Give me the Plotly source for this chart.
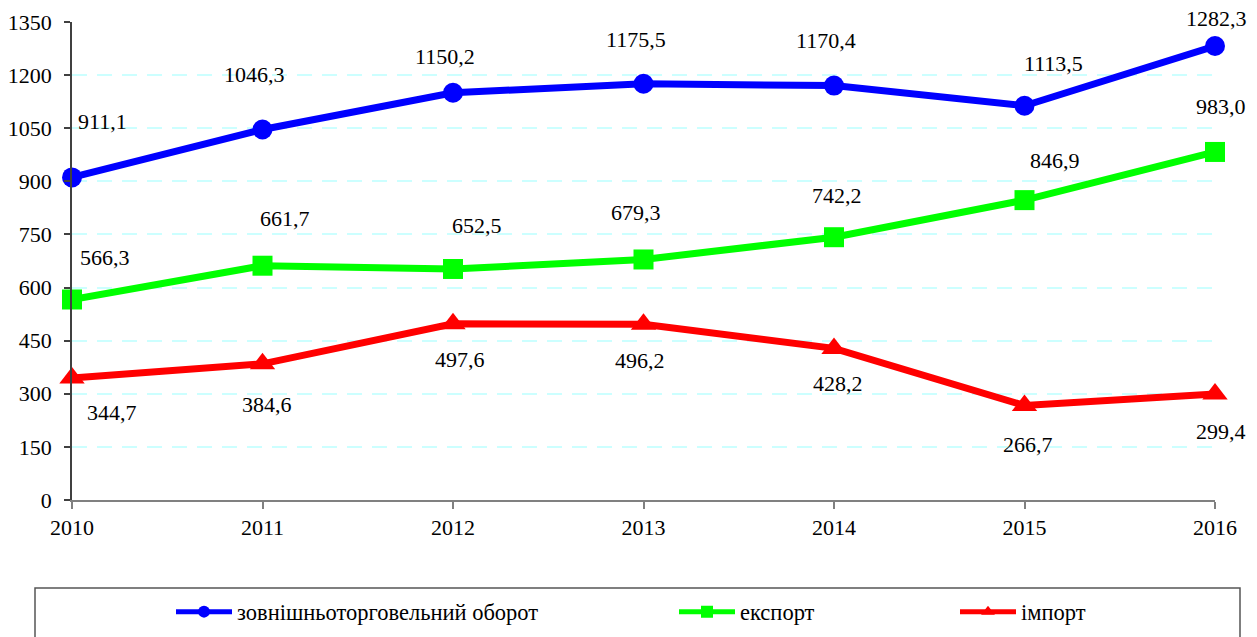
import plotly.graph_objects as go

years = [2010, 2011, 2012, 2013, 2014, 2015, 2016]
turnover = [911.1, 1046.3, 1150.2, 1175.5, 1170.4, 1113.5, 1282.3]
export = [566.3, 661.7, 652.5, 679.3, 742.2, 846.9, 983.0]
imports = [344.7, 384.6, 497.6, 496.2, 428.2, 266.7, 299.4]
names = ["зовнішньоторговельний оборот", "експорт", "імпорт"]
y_ticks = [0, 150, 300, 450, 600, 750, 900, 1050, 1200, 1350]

# label offsets (pixels) relative to each point
off_turn = [(30, 56), (-8, 55), (-8, 36), (-8, 44), (-8, 45), (29, 42), (1, 27)]
off_exp = [(33, 42), (22, 47), (24, 43), (-8, 47), (3, 42), (30, 40), (6, 45)]
off_imp = [(40, -35), (4, -41), (7, -36), (-4, -36), (4, -35), (3, -39), (6, -38)]

FONT = "Liberation Serif, Times New Roman, serif"

def fmt(v):
    return f"{v:.1f}".replace(".", ",")

fig = go.Figure()
series = [
    (turnover, "#0000ff", "circle", 20, names[0], "legend2", off_turn),
    (export, "#00ff00", "square", 20, names[1], "legend3", off_exp),
    (imports, "#ff0000", "triangle-up", 22, names[2], "legend4", off_imp),
]
for vals, col, sym, ms, nm, lg, offs in series:
    fig.add_trace(go.Scatter(
        x=years, y=vals, mode="lines+markers", name=nm, legend=lg,
        line=dict(color=col, width=7),
        marker=dict(color=col, symbol=sym, size=ms),
        cliponaxis=False,
    ))
    for xv, yv, (dx, dy) in zip(years, vals, offs):
        fig.add_annotation(x=xv, y=yv, xref="x", yref="y", text=fmt(yv),
                           showarrow=False, xshift=dx, yshift=dy,
                           font=dict(family=FONT, size=22, color="black"))

# page body has an 8px margin, so the figure is drawn from (8, 8)
OFF = 8
W, H = 1257 - OFF, 637 - OFF
L, T = 72 - OFF, 22 - OFF
R = 1257 - 1215
B = 637 - 500
pw, ph = W - L - R, H - T - B

def px(xp):
    return (xp - OFF - L) / pw

def py(yp):
    return (H - B - (yp - OFF)) / ph

# legend frame
fig.add_shape(type="rect", xref="paper", yref="paper",
              x0=px(35), x1=px(1240), y0=py(650), y1=py(588),
              line=dict(color="#555555", width=1.5), fillcolor="rgba(0,0,0,0)")
fig.add_shape(type="line", xref="paper", yref="paper",
              x0=px(1254), x1=px(1254), y0=py(636), y1=py(622),
              line=dict(color="#555555", width=1.5))

leg_common = dict(orientation="h", yanchor="middle", xanchor="left",
                  bgcolor="rgba(0,0,0,0)", borderwidth=0, itemwidth=56,
                  itemsizing="constant",
                  font=dict(family=FONT, size=22.5, color="black"))

fig.update_layout(
    width=W, height=H,
    margin=dict(l=L, r=R, t=T, b=B, autoexpand=False),
    plot_bgcolor="white", paper_bgcolor="white",
    font=dict(family=FONT, size=20, color="black"),
    legend2=dict(x=px(171), y=py(612), **leg_common),
    legend3=dict(x=px(674), y=py(612), **leg_common),
    legend4=dict(x=px(955), y=py(612), **leg_common),
    xaxis=dict(range=[2010, 2016], tickvals=years, ticktext=[str(y) for y in years],
               showgrid=False, zeroline=False, showline=True, linecolor="#808080",
               linewidth=1.5, ticks="outside", ticklen=7, tickcolor="#808080",
               tickwidth=1.5, tickfont=dict(family=FONT, size=22)),
    yaxis=dict(range=[0, 1350], tickvals=y_ticks, showgrid=True,
               gridcolor="#ccffff", griddash="15px,10px", gridwidth=2,
               zeroline=False, showline=True, linecolor="#404040", linewidth=1.5,
               ticks="outside", ticklen=6, tickcolor="#404040", tickwidth=1.5,
               ticklabelstandoff=8, tickfont=dict(family=FONT, size=22)),
)

fig.write_html("out.html")
